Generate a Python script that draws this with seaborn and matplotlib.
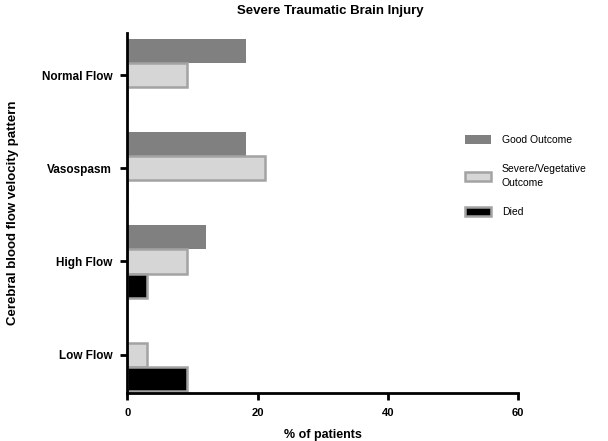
import pandas as pd
import matplotlib
matplotlib.use('Agg')
import matplotlib.pyplot as plt
from matplotlib.patches import Patch
import seaborn as sns

# Values (% of patients)
categories = ['Normal Flow', 'Vasospasm', 'High Flow', 'Low Flow']
outcomes = ['Good Outcome', 'Severe/Vegetative\nOutcome', 'Died']
good = [18.2, 18.2, 12.1, 0.0]
severe = [9.1, 21.2, 9.1, 3.0]
died = [0.0, 0.0, 3.0, 9.1]
x_ticks = [0, 20, 40, 60]

face_colors = ['#808080', '#d6d6d6', '#000000']
edge_colors = ['#808080', '#a3a3a3', '#a3a3a3']

df = pd.DataFrame({
    'pattern': categories * 3,
    'outcome': [outcomes[0]] * 4 + [outcomes[1]] * 4 + [outcomes[2]] * 4,
    'pct': good + severe + died,
})

sns.set_style('ticks')
plt.rcParams['font.family'] = ['Liberation Sans', 'DejaVu Sans']
plt.rcParams['text.color'] = 'black'
plt.rcParams['axes.labelcolor'] = 'black'
plt.rcParams['xtick.color'] = 'black'
plt.rcParams['ytick.color'] = 'black'

fig = plt.figure(figsize=(6.08, 4.41), dpi=100)
ax = fig.add_axes([0.2097, 0.109, 0.6423, 0.816])

sns.barplot(data=df, y='pattern', x='pct', hue='outcome', order=categories,
            hue_order=outcomes, orient='h', width=0.78, palette=face_colors,
            saturation=1, legend=False, ax=ax)

# per-series styling: gray border on the light and black bars
for cont, fc, ec in zip(ax.containers, face_colors, edge_colors):
    for bar in cont:
        bar.set_facecolor(fc)
        bar.set_edgecolor(ec)
        bar.set_linewidth(1.8 if ec != fc else 0)

ax.set_xlim(0, 60)
ax.set_ylim(3.41, -0.45)
ax.set_xticks(x_ticks)
ax.set_xticklabels([str(t) for t in x_ticks], fontsize=8, fontweight='bold')
ax.set_yticks(range(len(categories)))
ax.set_yticklabels(categories, fontsize=8.5, fontweight='bold')
ax.tick_params(axis='both', width=2, length=5, color='black', pad=6)

for side in ['top', 'right']:
    ax.spines[side].set_visible(False)
for side in ['left', 'bottom']:
    ax.spines[side].set_linewidth(2)
    ax.spines[side].set_color('black')

ax.set_xlabel('% of patients', fontsize=9, fontweight='bold', labelpad=8)
ax.set_ylabel('Cerebral blood flow velocity pattern', fontsize=9.5,
              fontweight='bold', labelpad=16)
fig.text(0.543, 0.975, 'Severe Traumatic Brain Injury', ha='center', va='center',
         fontsize=9.5, fontweight='bold')

handles = [Patch(facecolor=fc, edgecolor=ec, linewidth=1.8 if ec != fc else 0)
           for fc, ec in zip(face_colors, edge_colors)]
leg = fig.legend(handles, outcomes, loc='upper left', bbox_to_anchor=(0.75, 0.715),
                 frameon=False, fontsize=7.5, handlelength=2.5, handleheight=1.0,
                 labelspacing=1.75, handletextpad=1.0)
for t in leg.get_texts():
    t.set_linespacing(1.6)

plt.savefig('out.png', dpi=100)
